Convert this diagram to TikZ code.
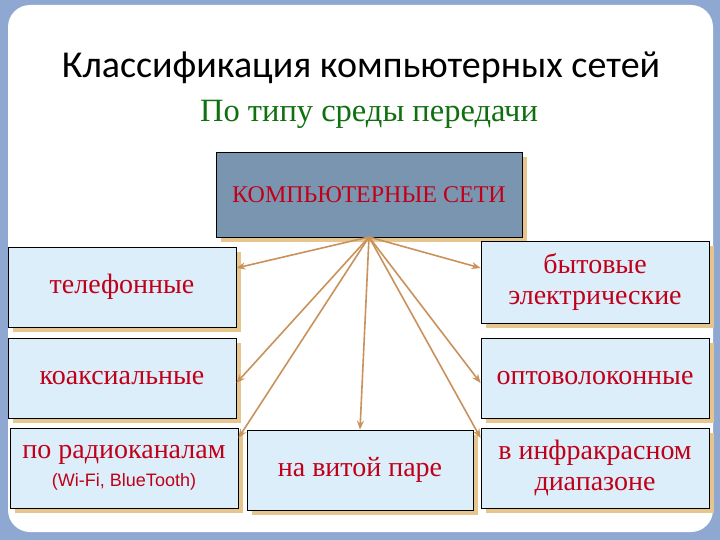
\documentclass[tikz,border=0pt]{standalone}
\usepackage{fontspec}
\setmainfont{Liberation Serif}
\newfontfamily\titlefont{Carlito}
\newfontfamily\arialfont{Liberation Sans}
\usetikzlibrary{arrows.meta,shadows}
\definecolor{bgblue}{HTML}{8FA8D2}
\definecolor{boxfill}{HTML}{DDEEFB}
\definecolor{topfill}{HTML}{7A95B0}
\definecolor{shadowtan}{HTML}{E6C68E}
\definecolor{txtred}{HTML}{C00018}
\definecolor{arrowc}{HTML}{C8925A}
\definecolor{subgreen}{HTML}{107010}
\begin{document}
\begin{tikzpicture}[x=1pt,y=-1pt,
  cbox/.style={draw=black,line width=0.8pt,fill=boxfill,minimum width=228pt,minimum height=80pt,
    font=\fontsize{28}{31}\selectfont,text=txtred,align=center,
    drop shadow={shadow xshift=5pt,shadow yshift=-5pt,fill=shadowtan,opacity=1}},
  arr/.style={draw=arrowc,line width=1.6pt,-{Stealth[length=9pt,width=7pt]}}]
\useasboundingbox (0,0) rectangle (720,540);
\fill[bgblue] (0,0) rectangle (720,540);
\fill[white,rounded corners=22pt] (8,5) rectangle (713,532);
\node[font=\titlefont\fontsize{38}{42}\selectfont] (title) at (361,68) {Классификация компьютерных сетей};
\node[font=\fontsize{32.5}{36}\selectfont,text=subgreen] (sub) at (369,114) {По типу среды передачи};
\node[draw=black,line width=0.8pt,fill=topfill,minimum width=306pt,minimum height=85pt,
  font=\fontsize{24}{27}\selectfont,text=txtred,
  drop shadow={shadow xshift=5pt,shadow yshift=-5pt,fill=shadowtan,opacity=1}] (top) at (369,194.5) {КОМПЬЮТЕРНЫЕ СЕТИ};
\node[cbox] (tel) at (122,287) {телефонные};
\node[cbox] (koax) at (122,378) {коаксиальные};
\node[cbox] (radio) at (124,468) {по радиоканалам\\[-3pt]{\arialfont\fontsize{18}{20}\selectfont (Wi-Fi, BlueTooth)}};
\node[cbox,minimum width=226pt] (vit) at (360,470) {на витой паре};
\node[cbox,minimum height=82pt] (byt) at (595,282) {бытовые\\электрические};
\node[cbox] (opt) at (595,378) {оптоволоконные};
\node[cbox] (ik) at (595,468) {в инфракрасном\\диапазоне};
\coordinate (s) at (369,237);
\draw[arr] (s) -- (tel.east |- 0,268);
\draw[arr] (s) -- (byt.west |- 0,268);
\draw[arr] (s) -- (koax.east |- 0,383);
\draw[arr] (s) -- (opt.west |- 0,383);
\draw[arr] (s) -- (radio.east |- 0,438);
\draw[arr] (s) -- (vit.north);
\draw[arr] (s) -- (ik.west |- 0,438);
\end{tikzpicture}
\end{document}
